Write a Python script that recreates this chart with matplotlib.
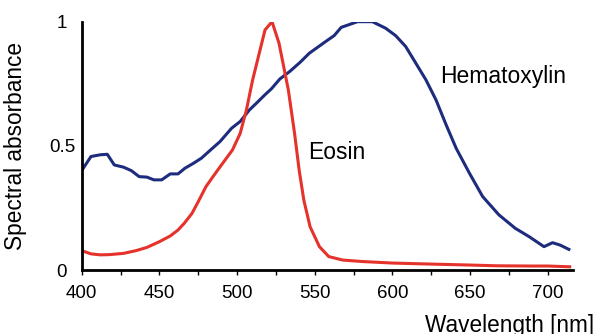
import numpy as np
import matplotlib.pyplot as plt

plt.rcParams['font.family'] = ['Liberation Sans', 'DejaVu Sans']

# Hematoxylin absorbance
wl_hema = [400, 406, 412, 416.5, 421, 427, 432, 437, 442, 446.5, 451.5, 457, 462, 466.5,
           472, 477, 482.5, 489, 496.5, 502, 508, 512.5, 518, 522, 527.5, 534, 540.5,
           546.5, 557, 562.5, 567, 572, 577.5, 587, 595.5, 602, 608.5, 615, 621.5, 628,
           634.5, 641, 649.5, 658, 668.5, 679, 688, 697.5, 703, 708, 713.5]
abs_hema = [0.40, 0.457, 0.464, 0.466, 0.423, 0.414, 0.40, 0.376, 0.374, 0.363, 0.363, 0.387,
            0.387, 0.41, 0.43, 0.45, 0.481, 0.517, 0.571, 0.598, 0.645, 0.672, 0.706, 0.729,
            0.769, 0.80, 0.836, 0.873, 0.92, 0.944, 0.977, 0.988, 1.0, 1.0, 0.974, 0.944,
            0.90, 0.833, 0.766, 0.685, 0.585, 0.49, 0.39, 0.296, 0.222, 0.168, 0.134,
            0.094, 0.11, 0.10, 0.083]

# Eosin absorbance
wl_eosin = [400, 406, 412, 418, 427, 435, 442, 450, 457, 462, 466, 471, 475, 480, 486, 491,
            497, 502, 506, 510, 514, 518, 522.5, 527, 533, 537, 540, 543, 547, 553, 559,
            568, 581, 600, 624, 650, 667, 690, 700, 714]
abs_eosin = [0.078, 0.065, 0.061, 0.062, 0.067, 0.078, 0.091, 0.114, 0.137, 0.161, 0.188,
             0.228, 0.275, 0.336, 0.389, 0.432, 0.483, 0.55, 0.644, 0.765, 0.866, 0.967,
             1.0, 0.913, 0.725, 0.55, 0.40, 0.28, 0.174, 0.094, 0.054, 0.040, 0.034,
             0.028, 0.024, 0.020, 0.017, 0.016, 0.016, 0.013]

x_ticks = [400, 450, 500, 550, 600, 650, 700]
y_ticks = [0, 0.5, 1]
y_tick_labels = ['0', '0.5', '1']

fig = plt.figure(figsize=(5.96, 3.34), dpi=100)
ax = fig.add_axes([0.137, 0.1916, 0.824, 0.7435])

ax.plot(wl_hema, abs_hema, color='#1d2c7c', lw=2.2, solid_joinstyle='round')
ax.plot(wl_eosin, abs_eosin, color='#e5322b', lw=2.2, solid_joinstyle='round')

ax.text(630.4, 0.752, 'Hematoxylin', fontsize=16.5, va='baseline', ha='left')
ax.text(545.7, 0.445, 'Eosin', fontsize=16.5, va='baseline', ha='left')

ax.set_xlim(400, 716)
ax.set_ylim(0, 1)
ax.set_xticks(x_ticks)
ax.set_xticks(np.arange(425, 716, 50), minor=True)
ax.set_yticks(y_ticks)
ax.set_yticklabels(y_tick_labels, ha='center')
ax.tick_params(axis='x', which='both', direction='out', length=3.5, width=1, pad=7,
               labelsize=13.5)
ax.tick_params(axis='y', length=0, pad=14.2, labelsize=13.5)

for side in ['top', 'right']:
    ax.spines[side].set_visible(False)
for side in ['left', 'bottom']:
    ax.spines[side].set_linewidth(2.0)

ax.set_ylabel('Spectral absorbance', fontsize=16.3)
ax.yaxis.set_label_coords(-0.111, 0.5)
ax.set_xlabel('Wavelength [nm]', fontsize=16.3, ha='right')
ax.xaxis.set_label_coords(1.043, -0.177)

fig.savefig('out.png', dpi=100)
